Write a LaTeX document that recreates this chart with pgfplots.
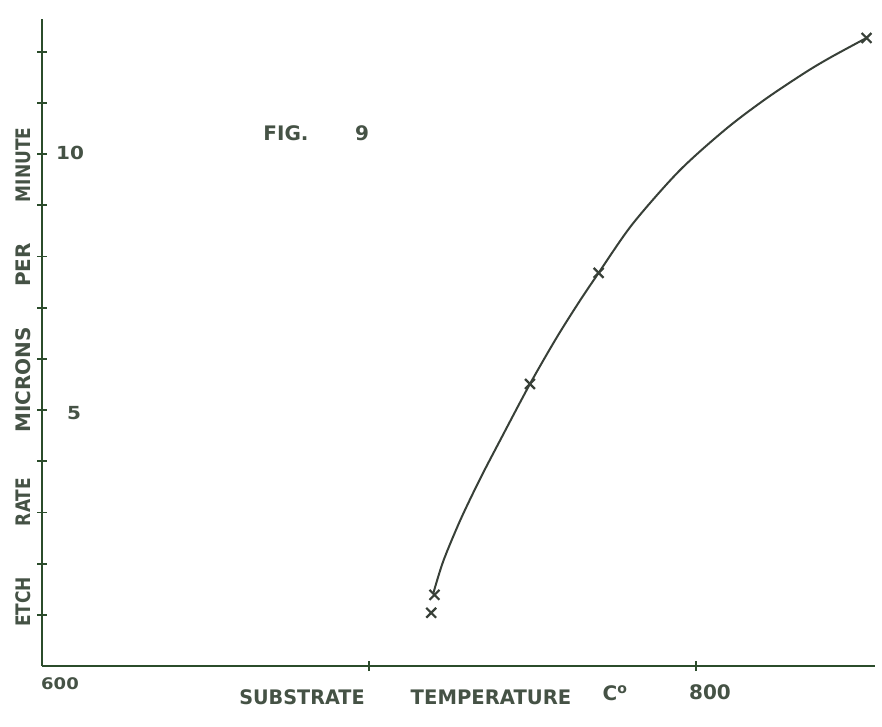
\documentclass[border=0pt]{standalone}
\usepackage{pgfplots}
\pgfplotsset{compat=1.18}
\usepackage{fontspec}
\setmainfont{DejaVu Sans}
\newfontfamily\hand{DejaVu Sans Bold}
\definecolor{ink}{rgb}{0.22,0.25,0.22}
\definecolor{axisink}{rgb}{0.17,0.30,0.17}
\definecolor{txt}{rgb}{0.27,0.32,0.27}

% curve
\pgfplotstableread{
x y
719.6 1.41
722.7 2.05
727.9 2.85
733.9 3.65
740.0 4.40
749.2 5.51
757.4 6.42
764.4 7.13
770.2 7.68
780.5 8.63
794.8 9.67
809.1 10.49
821.3 11.08
833.5 11.60
841.4 11.90
852.1 12.27
}\curvedata
% measured points (crosses)
\pgfplotstableread{
x y
719.0 1.04
720.0 1.39
749.2 5.51
770.2 7.68
852.1 12.27
}\pointdata

\begin{document}
\begin{tikzpicture}[x=1pt,y=1pt]
\useasboundingbox (0,0) rectangle (882,726);
\begin{axis}[
  at={(42pt,60pt)}, anchor=south west,
  scale only axis, width=833pt, height=647pt,
  xmin=600, xmax=854.7, ymin=0, ymax=12.64,
  axis x line=bottom, axis y line=left,
  axis line style={axisink, line width=2.4pt, -},
  xtick={700,800}, ytick={1,2,...,12},
  xticklabels={}, yticklabels={},
  tick align=center, major tick length=10pt,
  tick style={axisink, line width=1.8pt},
  clip=false,
]
\addplot[ink, line width=2pt, smooth, tension=0.5] table[x=x,y=y] {\curvedata};
\addplot[only marks, mark=x, mark size=7pt, mark options={ink, line width=2.2pt}] table[x=x,y=y] {\pointdata};
\end{axis}
\begin{scope}[every node/.style={text=txt, inner sep=0pt}]
\fontsize{20}{24}\selectfont
% y label
\node[rotate=90] at (23,561) {\hand\scalebox{0.85}[1]{MINUTE}};
\node[rotate=90] at (23,461) {\hand\scalebox{1.0}[1]{PER}};
\node[rotate=90] at (23,346) {\hand\scalebox{1.0}[1]{MICRONS}};
\node[rotate=90] at (23,224) {\hand\scalebox{0.85}[1]{RATE}};
\node[rotate=90] at (23,124) {\hand\scalebox{0.85}[1]{ETCH}};
% x label
\node at (302,29) {\hand\scalebox{0.96}[1]{SUBSTRATE}};
\node at (491,29) {\hand\scalebox{0.98}[1]{TEMPERATURE}};
\node at (615,33) {\hand C\textsuperscript{o}};
% tick labels
\node at (60,42) {\hand\scalebox{0.9}[0.8]{600}};
\node at (710,34) {\hand 800};
\node at (70,573) {\hand\scalebox{1}[0.9]{10}};
\node at (74,313) {\hand\scalebox{1}[0.9]{5}};
% figure title
\node at (286,593) {\hand FIG.};
\node at (362,593) {\hand 9};
\end{scope}
\end{tikzpicture}
\end{document}
